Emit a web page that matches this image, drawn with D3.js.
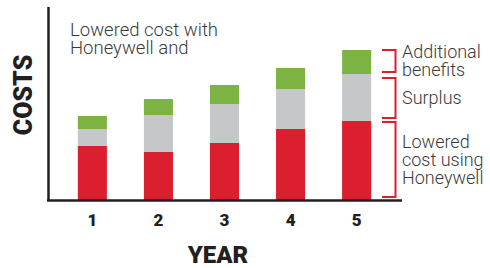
<!DOCTYPE html>
<html lang="en">
<head>
<meta charset="UTF-8">
<title>Costs by year</title>
<script src="https://cdn.jsdelivr.net/npm/d3@7"></script>
<style>
  body { margin: 0; background: #fff; }
</style>
</head>
<body>
<script>

    const width = 490;
    const height = 268;

    const years = ['1', '2', '3', '4', '5'];
    const lowered = [5.4, 4.8, 5.7, 7.1, 7.9];
    const surplus = [1.7, 3.7, 3.9, 4.0, 4.7];
    const benefits = [1.3, 1.6, 1.9, 2.1, 2.4];

    const seriesKeys = ['lowered', 'surplus', 'benefits'];
    const seriesLabels = [['Lowered', 'cost using', 'Honeywell'], ['Surplus'], ['Additional', 'benefits']];
    const colors = ['#dc1f2e', '#c6c7c8', '#7db343'];

    const table = years.map((y, i) => ({year: y, lowered: lowered[i], surplus: surplus[i], benefits: benefits[i]}));
    const stacked = d3.stack().keys(seriesKeys)(table);

    const x = d3.scaleBand().domain(years).range([58, 391]).paddingInner(0.56).paddingOuter(0.3);
    const y = d3.scaleLinear().domain([0, 20]).range([200, 0]);

    const svg = d3.select('body').append('svg').attr('width', width).attr('height', height);
    const font = "'Roboto', 'Liberation Sans', sans-serif";

    // bars
    svg.append('g').selectAll('g')
        .data(stacked)
        .join('g')
        .attr('fill', (d, i) => colors[i])
        .selectAll('rect')
        .data(d => d)
        .join('rect')
        .attr('x', d => x(d.data.year))
        .attr('y', d => y(d[1]))
        .attr('width', x.bandwidth())
        .attr('height', d => y(d[0]) - y(d[1]));

    // axes
    svg.append('line').attr('x1', 48.5).attr('x2', 48.5).attr('y1', 7).attr('y2', 201)
        .attr('stroke', '#231f20').attr('stroke-width', 2.5);
    svg.append('line').attr('x1', 47).attr('x2', 402).attr('y1', 200.5).attr('y2', 200.5)
        .attr('stroke', '#231f20').attr('stroke-width', 2.5);

    svg.append('g').selectAll('text')
        .data(years)
        .join('text')
        .attr('x', d => x(d) + x.bandwidth() / 2)
        .attr('y', 226)
        .attr('text-anchor', 'middle')
        .attr('font-family', font)
        .attr('font-weight', 900)
        .attr('font-size', 17)
        .attr('fill', '#231f20')
        .text(d => d);

    svg.append('text')
        .attr('x', 218).attr('y', 263)
        .attr('text-anchor', 'middle')
        .attr('font-family', font).attr('font-weight', 900).attr('font-size', 24)
        .attr('fill', '#231f20')
        .text('YEAR');

    svg.append('text')
        .attr('transform', 'translate(32,95) rotate(-90)')
        .attr('text-anchor', 'middle')
        .attr('font-family', font).attr('font-weight', 900).attr('font-size', 25)
        .attr('fill', '#231f20')
        .text('COSTS');

    // note top-left
    svg.append('text')
        .attr('font-family', font).attr('font-weight', 300).attr('font-size', 18.5).attr('fill', '#3a3a3a')
        .selectAll('tspan')
        .data(['Lowered cost with', 'Honeywell and'])
        .join('tspan')
        .attr('x', 70)
        .attr('y', (d, i) => 36 + i * 17.5)
        .text(d => d);

    // brackets on last bar
    const last = years.length - 1;
    const bx0 = 382, bx1 = 395.5;
    const inset = [[1, 3], [4, 3], [0, 2]];
    stacked.forEach((s, i) => {
        const top = y(s[last][1]) + inset[i][0];
        const bot = y(s[last][0]) - inset[i][1];
        svg.append('path')
            .attr('d', `M${bx0},${top}H${bx1}V${bot}H${bx0}`)
            .attr('fill', 'none')
            .attr('stroke', '#dc1f2e')
            .attr('stroke-width', 2);
        const lines = seriesLabels[i];
        const mid = (top + bot) / 2;
        const lh = 18;
        svg.append('text')
            .attr('font-family', font).attr('font-weight', 300).attr('font-size', 18).attr('fill', '#3a3a3a')
            .selectAll('tspan')
            .data(lines)
            .join('tspan')
            .attr('x', 402)
            .attr('y', (d, j) => mid + 6 + (j - (lines.length - 1) / 2) * lh)
            .text(d => d);
    });

</script>
</body>
</html>
